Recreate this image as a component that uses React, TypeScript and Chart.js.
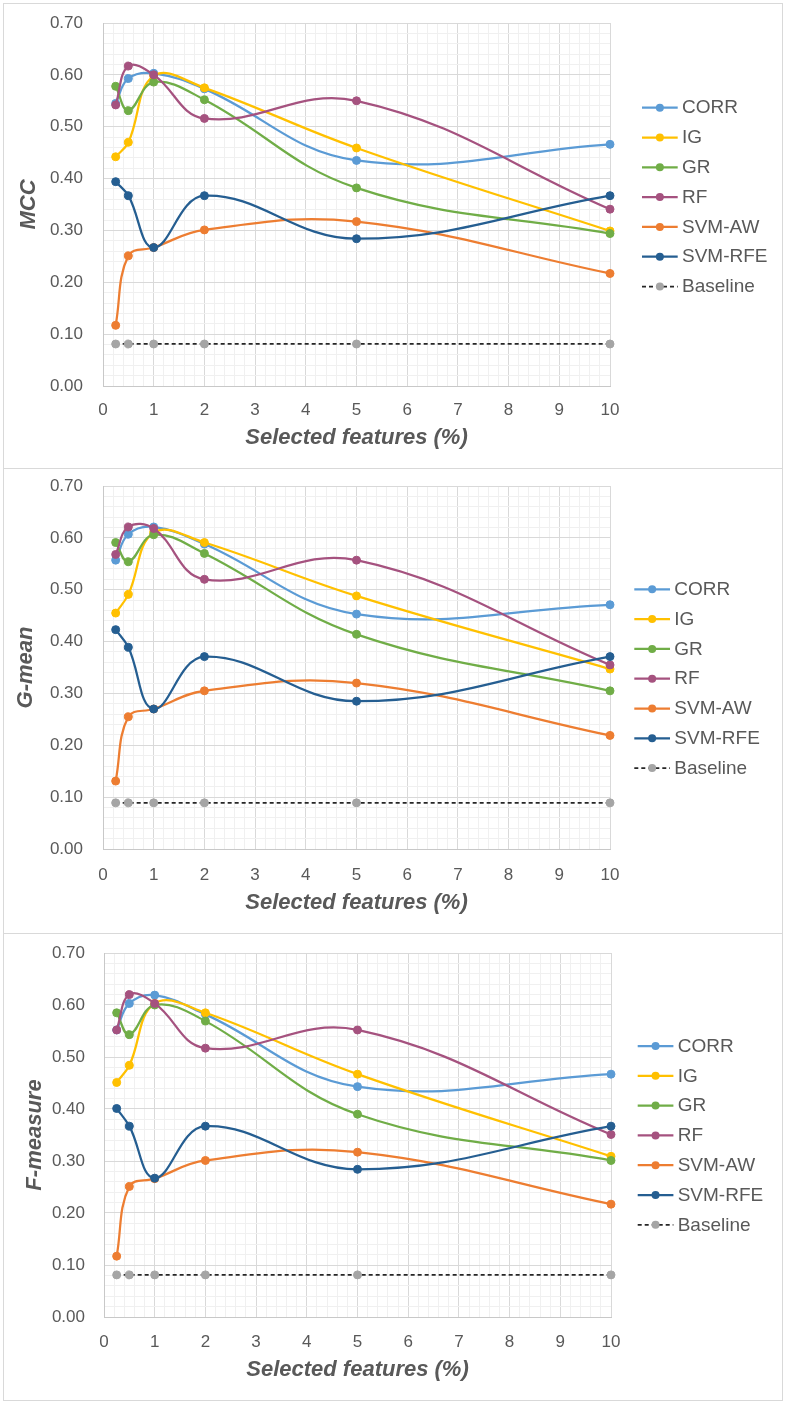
import React, { useEffect, useRef } from 'react';
import { Chart, registerables } from 'chart.js';

Chart.register(...registerables);

const FONT = "'Liberation Sans', Arial, sans-serif";
const TEXT = '#595959';

const xValues = [0.25, 0.5, 1, 2, 5, 10];

const seriesNames = ['CORR', 'IG', 'GR', 'RF', 'SVM-AW', 'SVM-RFE', 'Baseline'];
const seriesColors = ['#5B9BD5', '#FFC000', '#70AD47', '#A5527F', '#ED7D31', '#255E91', '#A5A5A5'];

// MCC panel
const mccCORR = [0.545, 0.593, 0.603, 0.573, 0.435, 0.466];
const mccIG = [0.442, 0.470, 0.598, 0.575, 0.459, 0.299];
const mccGR = [0.578, 0.531, 0.586, 0.552, 0.382, 0.294];
const mccRF = [0.542, 0.617, 0.600, 0.516, 0.550, 0.341];
const mccSVMAW = [0.117, 0.251, 0.267, 0.301, 0.317, 0.217];
const mccSVMRFE = [0.394, 0.367, 0.267, 0.367, 0.284, 0.367];
const mccBaseline = [0.081, 0.081, 0.081, 0.081, 0.081, 0.081];

// G-mean panel
const gmCORR = [0.557, 0.607, 0.621, 0.588, 0.453, 0.471];
const gmIG = [0.455, 0.491, 0.610, 0.591, 0.488, 0.347];
const gmGR = [0.591, 0.554, 0.606, 0.570, 0.414, 0.305];
const gmRF = [0.568, 0.621, 0.618, 0.520, 0.557, 0.355];
const gmSVMAW = [0.131, 0.255, 0.270, 0.305, 0.320, 0.219];
const gmSVMRFE = [0.423, 0.389, 0.270, 0.371, 0.285, 0.371];
const gmBaseline = [0.089, 0.089, 0.089, 0.089, 0.089, 0.089];

// F-measure panel
const fmCORR = [0.552, 0.603, 0.619, 0.582, 0.443, 0.467];
const fmIG = [0.451, 0.484, 0.603, 0.585, 0.467, 0.309];
const fmGR = [0.585, 0.543, 0.600, 0.569, 0.390, 0.301];
const fmRF = [0.552, 0.620, 0.603, 0.517, 0.552, 0.351];
const fmSVMAW = [0.117, 0.251, 0.266, 0.301, 0.317, 0.217];
const fmSVMRFE = [0.401, 0.367, 0.267, 0.367, 0.284, 0.367];
const fmBaseline = [0.081, 0.081, 0.081, 0.081, 0.081, 0.081];

const yTitles = ['MCC', 'G-mean', 'F-measure'];
const xTitle = 'Selected features (%)';

const panelSeries = [
  [mccCORR, mccIG, mccGR, mccRF, mccSVMAW, mccSVMRFE, mccBaseline],
  [gmCORR, gmIG, gmGR, gmRF, gmSVMAW, gmSVMRFE, gmBaseline],
  [fmCORR, fmIG, fmGR, fmRF, fmSVMAW, fmSVMRFE, fmBaseline],
];

// layout per panel (box top, box height, geometry)
const panelLayout = [
  { top: 3, h: 466, padTop: 19, padRight: 172, yW: 99, xH: 82, yTickPad: 20, xTickPad: 14, yTitlePad: 12, xTitlePad: 17, legX: 638, legY: 103.7 },
  { top: 468, h: 466, padTop: 17, padRight: 172, yW: 99, xH: 84, yTickPad: 20, xTickPad: 16, yTitlePad: 9, xTitlePad: 16.5, legX: 630.3, legY: 120.3 },
  { top: 933, h: 468, padTop: 19, padRight: 171, yW: 100, xH: 83, yTickPad: 19, xTickPad: 15, yTitlePad: 18, xTitlePad: 17, legX: 633.7, legY: 112 },
];

const isMultiple = (v: number, step: number) => Math.abs(v / step - Math.round(v / step)) < 1e-6;

const sideLegend = {
  id: 'sideLegend',
  afterDraw(chart: any, _args: any, opts: any) {
    const ctx = chart.ctx;
    ctx.save();
    chart.data.datasets.forEach((ds: any, i: number) => {
      const y = opts.y + i * opts.gap;
      const x0 = opts.x;
      const x1 = opts.x + opts.len;
      ctx.beginPath();
      ctx.setLineDash(ds.borderDash || []);
      ctx.strokeStyle = ds.borderColor;
      ctx.lineWidth = ds.borderWidth;
      ctx.moveTo(x0, y);
      ctx.lineTo(x1, y);
      ctx.stroke();
      ctx.setLineDash([]);
      ctx.beginPath();
      ctx.fillStyle = ds.pointBackgroundColor;
      ctx.arc((x0 + x1) / 2, y, 4, 0, Math.PI * 2);
      ctx.fill();
      ctx.fillStyle = TEXT;
      ctx.font = `19px ${FONT}`;
      ctx.textBaseline = 'middle';
      ctx.textAlign = 'left';
      ctx.fillText(ds.label, x1 + 4.3, y + 0.5);
    });
    ctx.restore();
  },
};

function Panel({ index }: { index: number }) {
  const ref = useRef<HTMLCanvasElement>(null);
  const L = panelLayout[index];
  useEffect(() => {
    const datasets = seriesNames.map((name, i) => {
      const isBase = name === 'Baseline';
      const vals = panelSeries[index][i];
      return {
        label: name,
        data: xValues.map((x, j) => ({ x, y: vals[j] })),
        borderColor: isBase ? '#262626' : seriesColors[i],
        borderWidth: isBase ? 1.75 : 2.25,
        borderDash: isBase ? [4, 3] : [],
        pointBackgroundColor: seriesColors[i],
        pointBorderColor: seriesColors[i],
        pointBorderWidth: 1,
        pointRadius: 4,
        tension: isBase ? 0 : 0.4,
        fill: false,
        clip: false,
        order: seriesNames.length - i,
      };
    });
    const chart = new Chart(ref.current as HTMLCanvasElement, {
      type: 'line',
      data: { datasets },
      plugins: [sideLegend],
      options: {
        responsive: false,
        animation: false,
        events: [],
        layout: { padding: { top: L.padTop, right: L.padRight, left: 0, bottom: 0 } },
        plugins: {
          legend: { display: false },
          tooltip: { enabled: false },
          sideLegend: { x: L.legX, y: L.legY, gap: 29.8, len: 35.7 },
        } as any,
        scales: {
          x: {
            type: 'linear',
            min: 0,
            max: 10,
            afterFit: (s: any) => { s.height = L.xH; },
            ticks: {
              stepSize: 0.2,
              autoSkip: false,
              maxRotation: 0,
              padding: L.xTickPad,
              color: TEXT,
              font: { family: FONT, size: 17 },
              callback: (v: any) => (isMultiple(Number(v), 1) ? String(Math.round(Number(v))) : ''),
            },
            grid: {
              drawTicks: false,
              color: (c: any) => (c.tick && isMultiple(c.tick.value, 1) ? '#d9d9d9' : '#f0f0f0'),
              lineWidth: 1,
            },
            border: { color: '#c8c8c8' },
            title: {
              display: true,
              text: xTitle,
              color: TEXT,
              font: { family: FONT, size: 22, weight: 'bold', style: 'italic' },
              padding: { top: 0, bottom: L.xTitlePad },
            },
          },
          y: {
            type: 'linear',
            min: 0,
            max: 0.7,
            afterFit: (s: any) => { s.width = L.yW; },
            ticks: {
              stepSize: 0.02,
              autoSkip: false,
              padding: 0,
              color: TEXT,
              font: { family: FONT, size: 17 },
              callback: (v: any) => (isMultiple(Number(v), 0.1) ? Number(v).toFixed(2) : ''),
            },
            grid: {
              drawTicks: true,
              tickLength: L.yTickPad,
              tickColor: 'rgba(0,0,0,0)',
              color: (c: any) => (c.tick && isMultiple(c.tick.value, 0.1) ? '#d9d9d9' : '#f0f0f0'),
              lineWidth: 1,
            },
            border: { color: '#c8c8c8' },
            title: {
              display: true,
              text: yTitles[index],
              color: TEXT,
              font: { family: FONT, size: 22, weight: 'bold', style: 'italic' },
              padding: { top: L.yTitlePad, bottom: 0 },
            },
          },
        },
      } as any,
    });
    return () => chart.destroy();
  }, []);
  return (
    <div
      style={{
        position: 'absolute',
        left: 3,
        top: L.top,
        width: 780,
        height: L.h,
        border: '1px solid #d9d9d9',
        boxSizing: 'border-box',
        background: '#fff',
      }}
    >
      <canvas ref={ref} width={778} height={L.h - 2} style={{ display: 'block' }} />
    </div>
  );
}

export default function App() {
  return (
    <div style={{ position: 'absolute', left: 0, top: 0, width: 786, height: 1404, background: '#fff' }}>
      <Panel index={0} />
      <Panel index={1} />
      <Panel index={2} />
    </div>
  );
}
